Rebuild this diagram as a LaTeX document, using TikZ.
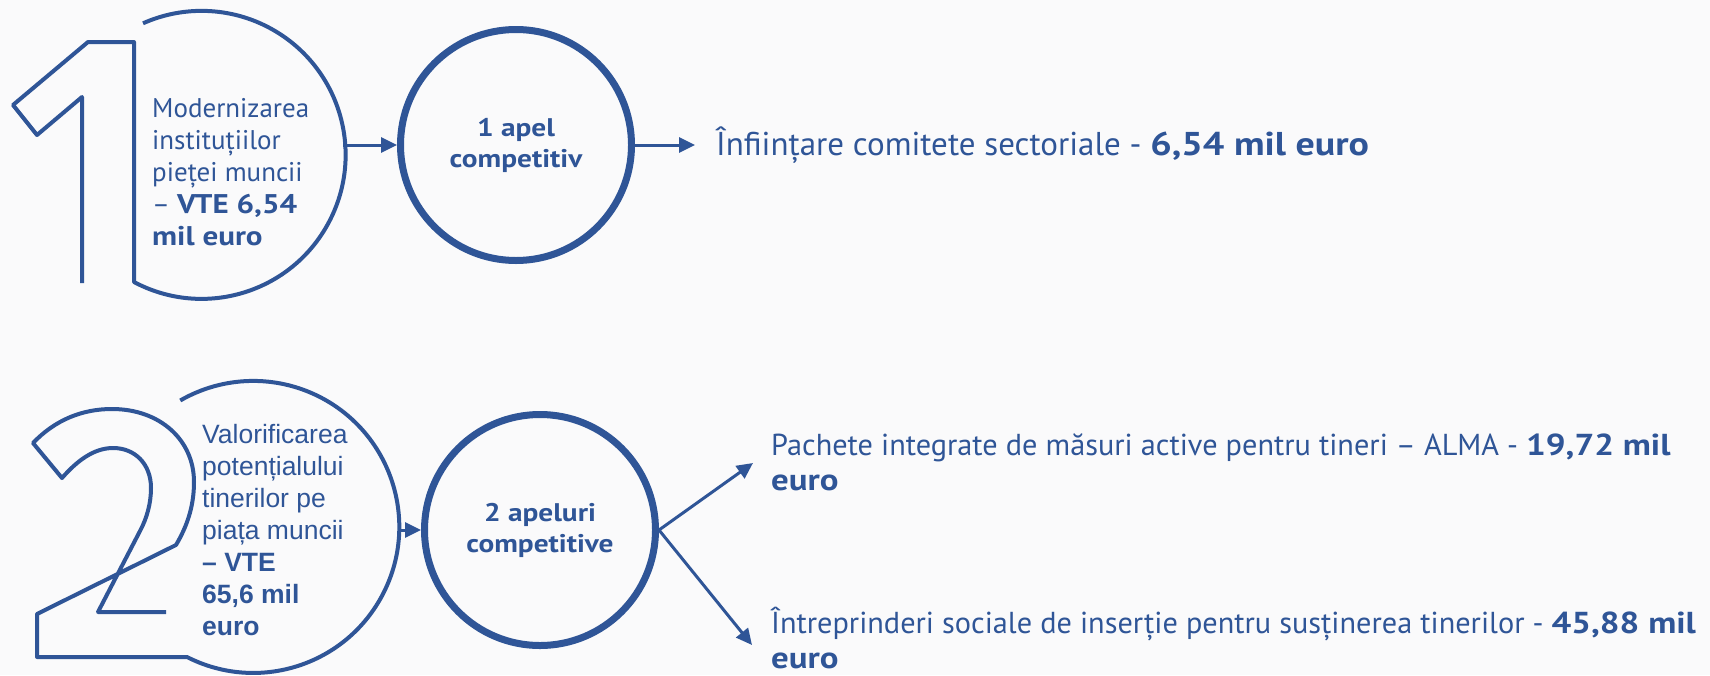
\documentclass[tikz,border=0pt]{standalone}
\usepackage{fontspec}
\setmainfont{PT Sans}[BoldFeatures={FakeStretch=1.15}]
\newfontfamily\arialfont{Liberation Sans}
\usetikzlibrary{arrows.meta}
\definecolor{apblue}{HTML}{2F5597}
\definecolor{apback}{RGB}{250,250,251}

\begin{document}
\begin{tikzpicture}[x=1pt,y=-1pt,
  ring/.style={circle,draw=apblue,line width=7pt,minimum size=231pt,inner sep=0pt,align=center,text=apblue,font=\fontsize{25.5}{31}\selectfont\bfseries},
  digit/.style={draw=apblue,line width=4pt,line join=round},
  conn/.style={draw=apblue,line width=3pt,-{Triangle[length=16pt,width=15pt]}},
  txt/.style={anchor=base west,inner sep=0pt,align=left,text=apblue}]
\useasboundingbox (0,0) rectangle (1710,675);
\fill[apback] (0,0) rectangle (1710,675);

\draw[digit] (82,283) -- (82,97) -- (37,135) -- (13,105) -- (88,42) -- (134,42) -- (134,282)
  arc[start angle=118,end angle=-114,radius=144];
\draw[digit] (166,612) -- (98,612) -- (140,531) .. controls (147,518) and (151,503) .. (151,488)
  .. controls (151,464) and (135,448) .. (113,448) .. controls (93,448) and (76,462) .. (62,478)
  -- (33,443) .. controls (55,420) and (82,409) .. (112,409) .. controls (160,409) and (194,440) .. (194,482)
  .. controls (194,508) and (186,528) .. (176,545) -- (37,614) -- (37,657) -- (187,657)
  arc[start angle=117,end angle=-120,radius=146];

\node[txt,font=\fontsize{27}{32}\selectfont] (m1) at (152,245)
  {Modernizarea\\instituțiilor\\pieței muncii\\– \textbf{VTE 6,54}\\\textbf{mil euro}};
\node[txt,font=\arialfont\fontsize{26.5}{32}\selectfont] (m2) at (202,635)
  {Valorificarea\\potențialului\\tinerilor pe\\piața muncii\\\textbf{– VTE}\\\textbf{65,6 mil}\\\textbf{euro}};

\node[ring] (c1) at (516,145) {1 apel\\competitiv};
\node[ring] (c2) at (540,530) {2 apeluri\\competitive};

\node[txt,font=\fontsize{33}{35}\selectfont] (r1) at (716,155)
  {Înființare comitete sectoriale - \textbf{6,54 mil euro}};
\node[txt,font=\fontsize{30.3}{35}\selectfont] (r2) at (771,490)
  {Pachete integrate de măsuri active pentru tineri – ALMA - \textbf{19,72 mil}\\\textbf{euro}};
\node[txt,font=\fontsize{30.3}{35}\selectfont] (r3) at (771,668)
  {Întreprinderi sociale de inserție pentru susținerea tinerilor - \textbf{45,88 mil}\\\textbf{euro}};

\coordinate (e1) at (343,145);
\coordinate (e2) at (398,530);
\coordinate (a1) at (695,145);
\coordinate (a2) at (753,463);
\coordinate (a3) at (752,645);

\draw[conn] (e1) -- (c1);
\draw[conn] (e2) -- (c2);
\draw[conn] (c1) -- (a1);
\draw[conn] (c2.east) -- (a2);
\draw[conn] (c2.east) -- (a3);
\end{tikzpicture}
\end{document}
